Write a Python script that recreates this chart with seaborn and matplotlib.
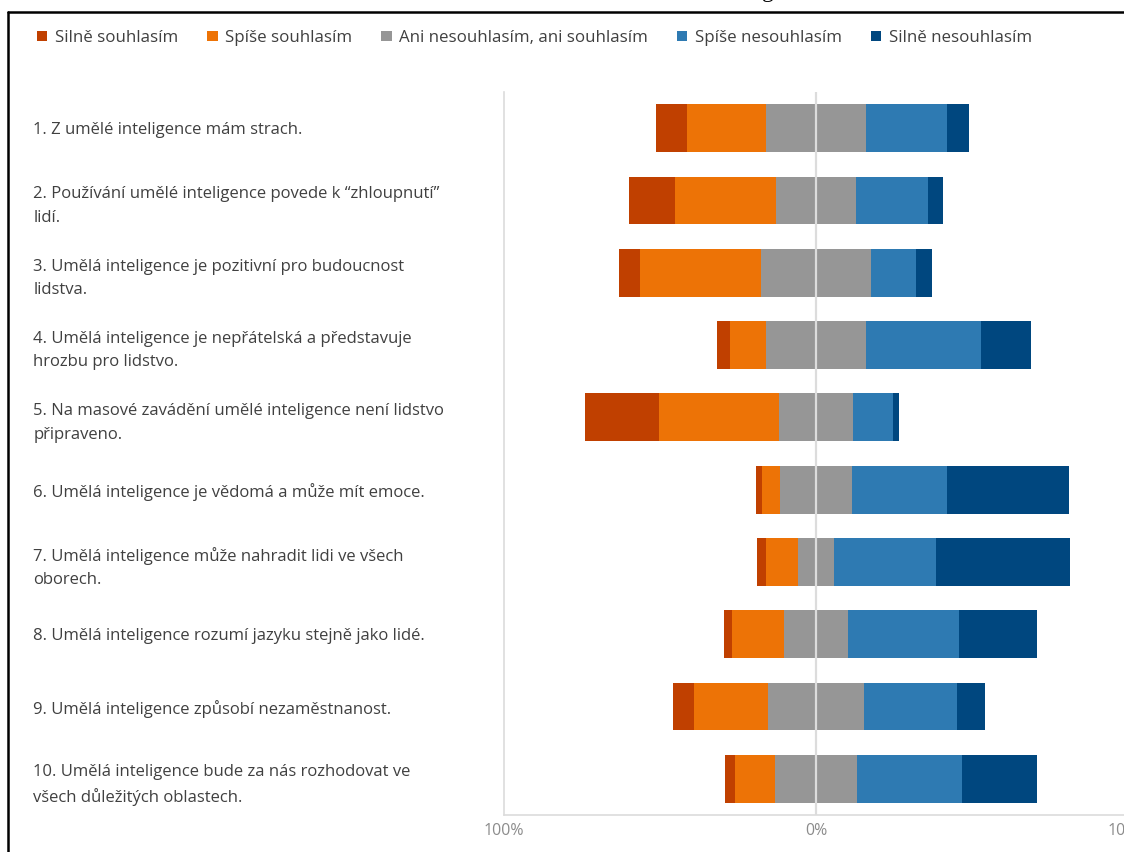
import matplotlib
matplotlib.use("Agg")
import matplotlib.pyplot as plt
import seaborn as sns
import numpy as np
import pandas as pd
from matplotlib.patches import Patch
from matplotlib.lines import Line2D

# Survey statements (y categories)
statements = [
    "1. Z umělé inteligence mám strach.",
    "2. Používání umělé inteligence povede k “zhloupnutí”\nlidí.",
    "3. Umělá inteligence je pozitivní pro budoucnost\nlidstva.",
    "4. Umělá inteligence je nepřátelská a představuje\nhrozbu pro lidstvo.",
    "5. Na masové zavádění umělé inteligence není lidstvo\npřipraveno.",
    "6. Umělá inteligence je vědomá a může mít emoce.",
    "7. Umělá inteligence může nahradit lidi ve všech\noborech.",
    "8. Umělá inteligence rozumí jazyku stejně jako lidé.",
    "9. Umělá inteligence způsobí nezaměstnanost.",
    "10. Umělá inteligence bude za nás rozhodovat ve\nvšech důležitých oblastech.",
]

# Answer categories
answers = [
    "Silně souhlasím",
    "Spíše souhlasím",
    "Ani nesouhlasím, ani souhlasím",
    "Spíše nesouhlasím",
    "Silně nesouhlasím",
]

# Shares of answers per statement (%)
silne_souhlasim = [10.2, 14.5, 6.6, 4.0, 23.5, 1.9, 2.9, 2.6, 6.6, 3.0]
spise_souhlasim = [25.3, 32.5, 39.0, 11.7, 38.6, 5.6, 10.2, 16.9, 23.7, 13.1]
neutralni = [31.8, 25.6, 35.0, 31.8, 23.6, 23.2, 11.7, 20.2, 31.0, 26.0]
spise_nesouhlasim = [26.1, 23.0, 14.7, 36.9, 12.8, 30.4, 32.5, 35.6, 29.6, 33.8]
silne_nesouhlasim = [7.0, 4.8, 4.9, 16.2, 2.1, 39.0, 43.0, 25.1, 9.2, 24.1]

colors = ["#C04000", "#ED7306", "#969696", "#2E7AB2", "#00477F"]

x_ticks = [-100, 0, 100]
x_ticklabels = ["100%", "0%", "100%"]

sns.set_theme(style="white")
plt.rcParams["font.family"] = ["Open Sans", "DejaVu Sans"]

fig = plt.figure(figsize=(11.24, 8.52), dpi=100)
ax = fig.add_axes([504 / 1124, 37 / 852, 624 / 1124, 723 / 852])

df = pd.DataFrame({
    "statement": statements,
    "ss": silne_souhlasim,
    "ps": spise_souhlasim,
    "n": neutralni,
    "pn": spise_nesouhlasim,
    "sn": silne_nesouhlasim,
})
half = df["n"] / 2
# Cumulative extents, drawn from the outermost segment inwards
layers = [
    (half + df["pn"] + df["sn"], colors[4]),
    (half + df["pn"], colors[3]),
    (half, colors[2]),
    (-(half + df["ps"] + df["ss"]), colors[0]),
    (-(half + df["ps"]), colors[1]),
    (-half, colors[2]),
]
for vals, col in layers:
    sns.barplot(x=vals.values, y=df["statement"], orient="h", color=col,
                width=0.66, errorbar=None, saturation=1, linewidth=0, ax=ax)

ax.set_xlim(-100, 100)
ax.set_ylim(9.5, -0.5)
ax.set_xlabel("")
ax.set_ylabel("")

# Zero reference line over the bars
ax.axvline(0, color="#dcdcdc", lw=1.6, zorder=5)

for s in ["top", "right"]:
    ax.spines[s].set_visible(False)
for s in ["left", "bottom"]:
    ax.spines[s].set_color("#dcdcdc")
    ax.spines[s].set_linewidth(1.2)

ax.set_xticks(x_ticks)
ax.set_xticklabels(x_ticklabels)
ax.tick_params(axis="x", length=0, pad=6, labelsize=11.5, labelcolor="#8c8c8c")
ax.tick_params(axis="y", length=0, pad=339, labelsize=12, labelcolor="#404040")
for lab in ax.get_yticklabels():
    lab.set_horizontalalignment("left")
    lab.set_linespacing(1.6)

handles = [Patch(facecolor=c, edgecolor="none") for c in colors]
fig.legend(handles, answers, loc="center left", bbox_to_anchor=(22 / 1124, 1 - 38 / 852),
           ncol=5, frameon=False, fontsize=12.2, handlelength=0.6, handleheight=0.6,
           handletextpad=0.45, columnspacing=1.72, labelcolor="#404040")

# Page frame
fig.add_artist(Line2D([8 / 1124, 8 / 1124], [0, 1 - 12 / 852], color="black", lw=1.8,
                      transform=fig.transFigure))
fig.add_artist(Line2D([8 / 1124, 1], [1 - 12 / 852, 1 - 12 / 852], color="black", lw=1.8,
                      transform=fig.transFigure))
fig.text(768 / 1124, 1 + 3 / 852, "g", fontsize=17, family="Liberation Serif",
         ha="center", va="baseline", color="black")

fig.savefig("out.png", dpi=100, facecolor="white")
